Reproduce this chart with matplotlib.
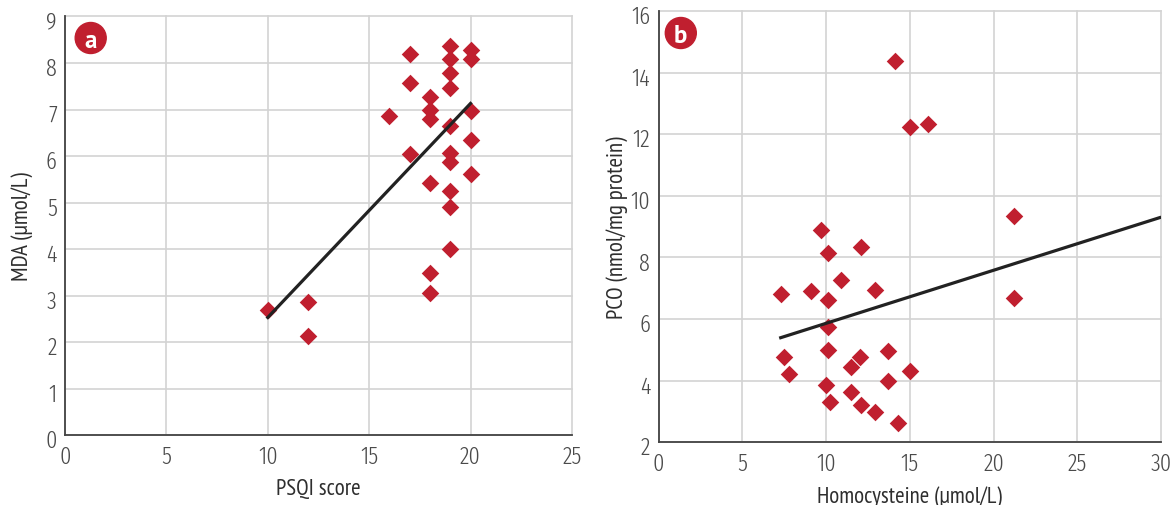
import matplotlib
matplotlib.use('Agg')
import matplotlib.pyplot as plt
from matplotlib.patches import Ellipse
from matplotlib.transforms import ScaledTranslation

# panel a: PSQI score vs MDA
psqi = [10, 12, 12, 16, 17, 17, 17, 18, 18, 18, 18, 18, 18,
        19, 19, 19, 19, 19, 19, 19, 19, 19, 19, 20, 20, 20, 20, 20]
mda = [2.70, 2.87, 2.13, 6.87, 8.20, 7.58, 6.04, 7.26, 6.98, 6.80, 5.42, 3.48, 3.05,
       8.37, 8.08, 7.79, 7.47, 6.65, 6.07, 5.88, 5.25, 4.91, 4.00, 8.27, 8.08, 6.96, 6.34, 5.61]
fit_a_x = [10, 20]
fit_a_y = [2.53, 7.13]

# panel b: homocysteine vs PCO
hcy = [14.1, 15.0, 16.1, 21.2, 21.2, 9.7, 10.1, 12.1, 10.9, 7.3, 9.1, 10.1, 12.9, 10.1,
       10.1, 7.5, 7.8, 12.0, 11.5, 13.7, 15.0, 13.7, 10.0, 11.5, 10.25, 12.1, 12.9, 14.3]
pco = [14.37, 12.25, 12.33, 9.36, 6.68, 8.90, 8.14, 8.33, 7.27, 6.83, 6.90, 6.62, 6.93, 5.74,
       5.00, 4.76, 4.22, 4.76, 4.44, 4.96, 4.31, 3.98, 3.86, 3.62, 3.30, 3.22, 2.97, 2.62]
fit_b_x = [7.2, 30]
fit_b_y = [5.38, 9.31]

RED = '#c01f2f'
plt.rcParams['font.family'] = ['PT Sans Narrow', 'DejaVu Sans']

fig = plt.figure(figsize=(11.76, 5.06), dpi=100)
ax_a = fig.add_axes([0.0553, 0.138, 0.431, 0.8275])
ax_b = fig.add_axes([0.560, 0.124, 0.4274, 0.852])


def style(ax, xlim, ylim, xticks, yticks, xlabel, ylabel, xpad, ypad):
    ax.set_xlim(*xlim)
    ax.set_ylim(*ylim)
    ax.set_xticks(xticks)
    ax.set_yticks(yticks)
    ax.grid(True, color='#d3d3d3', linewidth=1.2)
    ax.set_axisbelow(True)
    for s in ['top', 'right']:
        ax.spines[s].set_visible(False)
    for s in ['left', 'bottom']:
        ax.spines[s].set_color('#444444')
        ax.spines[s].set_linewidth(1.3)
    ax.tick_params(length=0, labelsize=17.5, colors='#4a4a4a',
                   labelfontfamily='Fira Sans Extra Condensed')
    ax.tick_params(axis='x', pad=7)
    ax.tick_params(axis='y', pad=6)
    shift = ScaledTranslation(0, -3 / 100, fig.dpi_scale_trans)
    for lab in ax.get_xticklabels() + ax.get_yticklabels():
        lab.set_fontweight(300)
    for lab in ax.get_yticklabels():
        lab.set_transform(lab.get_transform() + shift)
    ax.set_xlabel(xlabel, fontsize=16.5, color='#2e2e2e', labelpad=xpad)
    ax.set_ylabel(ylabel, fontsize=16.5, color='#2e2e2e', labelpad=ypad)
    for t in ax.get_xgridlines() + ax.get_ygridlines():
        t.set_clip_on(False)


style(ax_a, (0, 25), (0, 9), range(0, 26, 5), range(0, 10),
      'PSQI score', 'MDA (μmol/L)', 7, 9)
ax_a.scatter(psqi, mda, marker='D', s=80, color=RED, linewidths=0, zorder=3)
ax_a.plot(fit_a_x, fit_a_y, color='#222222', linewidth=2.3, zorder=4)

style(ax_b, (0, 30), (2, 16), range(0, 31, 5), range(2, 17, 2),
      'Homocysteine (μmol/L)', 'PCO (nmol/mg protein)', 7, 2)
ax_b.scatter(hcy, pco, marker='D', s=80, color=RED, linewidths=0, zorder=3)
ax_b.plot(fit_b_x, fit_b_y, color='#222222', linewidth=2.3, zorder=4,
          solid_capstyle='butt')

# panel badges
for label, cx, cy in [('a', 90.7, 39), ('b', 680.8, 34)]:
    fx, fy = cx / 1176, 1 - cy / 506
    fig.add_artist(Ellipse((fx, fy), 31 / 1176, 31 / 506, color=RED,
                           transform=fig.transFigure))
    fig.text(fx, fy, label, color='white', fontsize=18, fontweight='bold',
             ha='center', va='center_baseline', family='PT Sans')

fig.savefig('out.png', dpi=100)
